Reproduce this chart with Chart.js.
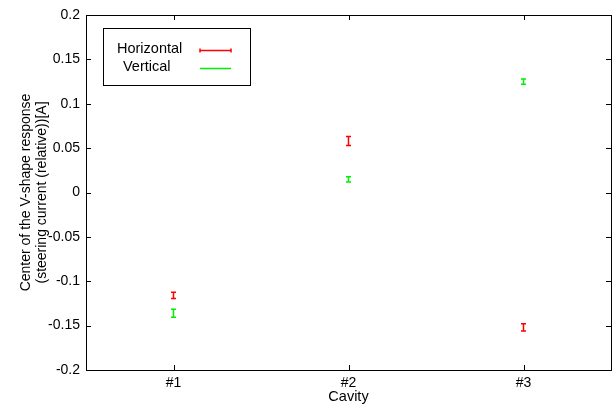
<!DOCTYPE html>
<html><head><meta charset="utf-8">
<script src="https://cdn.jsdelivr.net/npm/chart.js@4"></script>
<style>html,body{margin:0;padding:0;background:#fff}#wrap{width:612px;height:404px}</style>
</head><body><div id="wrap"><canvas id="c" width="612" height="404"></canvas></div>
<script>
const categories = ['#1', '#2', '#3'];
const seriesNames = ['Horizontal', 'Vertical'];
const horizontalValues = [-0.116, 0.058, -0.152];
const horizontalErrors = [0.0035, 0.005, 0.004];
const verticalValues = [-0.136, 0.0147, 0.125];
const verticalErrors = [0.0045, 0.003, 0.003];
const yTicks = [-0.2, -0.15, -0.1, -0.05, 0, 0.05, 0.1, 0.15, 0.2];
const colors = ['#ff0000', '#00ee00'];

const FONT = 'Liberation Sans, Arial, sans-serif';

function pts(vals, errs) {
  return vals.map((v, i) => ({x: i + 1, y: v, e: errs[i]}));
}

const errorBars = {
  id: 'errorBars',
  afterDatasetsDraw(chart) {
    const ctx = chart.ctx, xs = chart.scales.x, ys = chart.scales.y;
    chart.data.datasets.forEach((ds) => {
      ctx.save();
      ctx.strokeStyle = ds.borderColor;
      ctx.lineWidth = 1.5;
      ds.data.forEach((p) => {
        const px = xs.getPixelForValue(p.x);
        const y1 = ys.getPixelForValue(p.y - p.e);
        const y2 = ys.getPixelForValue(p.y + p.e);
        ctx.beginPath();
        ctx.moveTo(px, y1); ctx.lineTo(px, y2);
        ctx.moveTo(px - 2.5, y1); ctx.lineTo(px + 2.5, y1);
        ctx.moveTo(px - 2.5, y2); ctx.lineTo(px + 2.5, y2);
        ctx.stroke();
      });
      ctx.restore();
    });
  }
};

const frame = {
  id: 'frame',
  afterDraw(chart) {
    const ctx = chart.ctx, a = chart.chartArea, xs = chart.scales.x, ys = chart.scales.y;
    ctx.save();
    ctx.strokeStyle = '#000';
    ctx.lineWidth = 1;
    ctx.strokeRect(Math.round(a.left) + 0.5, Math.round(a.top) + 0.5, Math.round(a.right - a.left), Math.round(a.bottom - a.top));
    ctx.beginPath();
    yTicks.forEach((t) => {
      const py = Math.round(ys.getPixelForValue(t)) + 0.5;
      ctx.moveTo(a.left, py); ctx.lineTo(a.left + 5, py);
      ctx.moveTo(a.right, py); ctx.lineTo(a.right - 5, py);
    });
    categories.forEach((c, i) => {
      const px = Math.round(xs.getPixelForValue(i + 1)) + 0.5;
      ctx.moveTo(px, a.bottom); ctx.lineTo(px, a.bottom - 5);
      ctx.moveTo(px, a.top); ctx.lineTo(px, a.top + 5);
    });
    ctx.stroke();
    // legend
    ctx.strokeRect(103.5, 28.5, 147, 57);
    ctx.fillStyle = '#000';
    ctx.font = '14.5px ' + FONT;
    ctx.textBaseline = 'middle';
    ctx.textAlign = 'left';
    const rows = [{t: seriesNames[0], x: 117, y: 49}, {t: seriesNames[1], x: 123, y: 67}];
    rows.forEach((r, i) => {
      ctx.fillStyle = '#000';
      ctx.fillText(r.t, r.x, r.y);
      ctx.strokeStyle = colors[i];
      ctx.lineWidth = 1.5;
      ctx.beginPath();
      const ly = r.y + 1.5;
      ctx.moveTo(200, ly); ctx.lineTo(231, ly);
      if (i === 0) {
        ctx.moveTo(200, ly - 2); ctx.lineTo(200, ly + 2);
        ctx.moveTo(231, ly - 2); ctx.lineTo(231, ly + 2);
      }
      ctx.stroke();
    });
    ctx.restore();
  }
};

new Chart(document.getElementById('c'), {
  type: 'scatter',
  data: {
    datasets: [
      {label: seriesNames[0], data: pts(horizontalValues, horizontalErrors), borderColor: colors[0], backgroundColor: colors[0], pointRadius: 0},
      {label: seriesNames[1], data: pts(verticalValues, verticalErrors), borderColor: colors[1], backgroundColor: colors[1], pointRadius: 0}
    ]
  },
  options: {
    responsive: false,
    animation: false,
    devicePixelRatio: 1,
    layout: {padding: {top: 15, right: 1, left: 0, bottom: 0}},
    plugins: {legend: {display: false}, tooltip: {enabled: false}},
    scales: {
      x: {
        type: 'linear', min: 0.5, max: 3.5,
        afterBuildTicks(s) { s.ticks = categories.map((c, i) => ({value: i + 1})); },
        afterFit(s) { s.height = 34; },
        grid: {display: false, drawTicks: false},
        border: {display: false},
        ticks: {color: '#000', padding: 5, font: {family: FONT, size: 14}, callback: (v) => categories[v - 1]},
        title: {display: true, text: 'Cavity', color: '#000', font: {family: FONT, size: 14.5, lineHeight: '15px'}, padding: {top: 0, bottom: 0}}
      },
      y: {
        min: -0.2, max: 0.2,
        afterBuildTicks(s) { s.ticks = yTicks.map((v) => ({value: v})); },
        afterFit(s) { s.width = 86; },
        grid: {display: false, drawTicks: false},
        border: {display: false},
        ticks: {color: '#000', padding: 6, font: {family: FONT, size: 14}, callback: (v) => String(parseFloat(v.toFixed(2)))},
        title: {display: true, text: ['Center of the V-shape response', '(steering current (relative))[A]'], color: '#000', font: {family: FONT, size: 14, lineHeight: '16px'}, padding: {top: 18, bottom: 0}}
      }
    }
  },
  plugins: [errorBars, frame]
});
</script></body></html>
